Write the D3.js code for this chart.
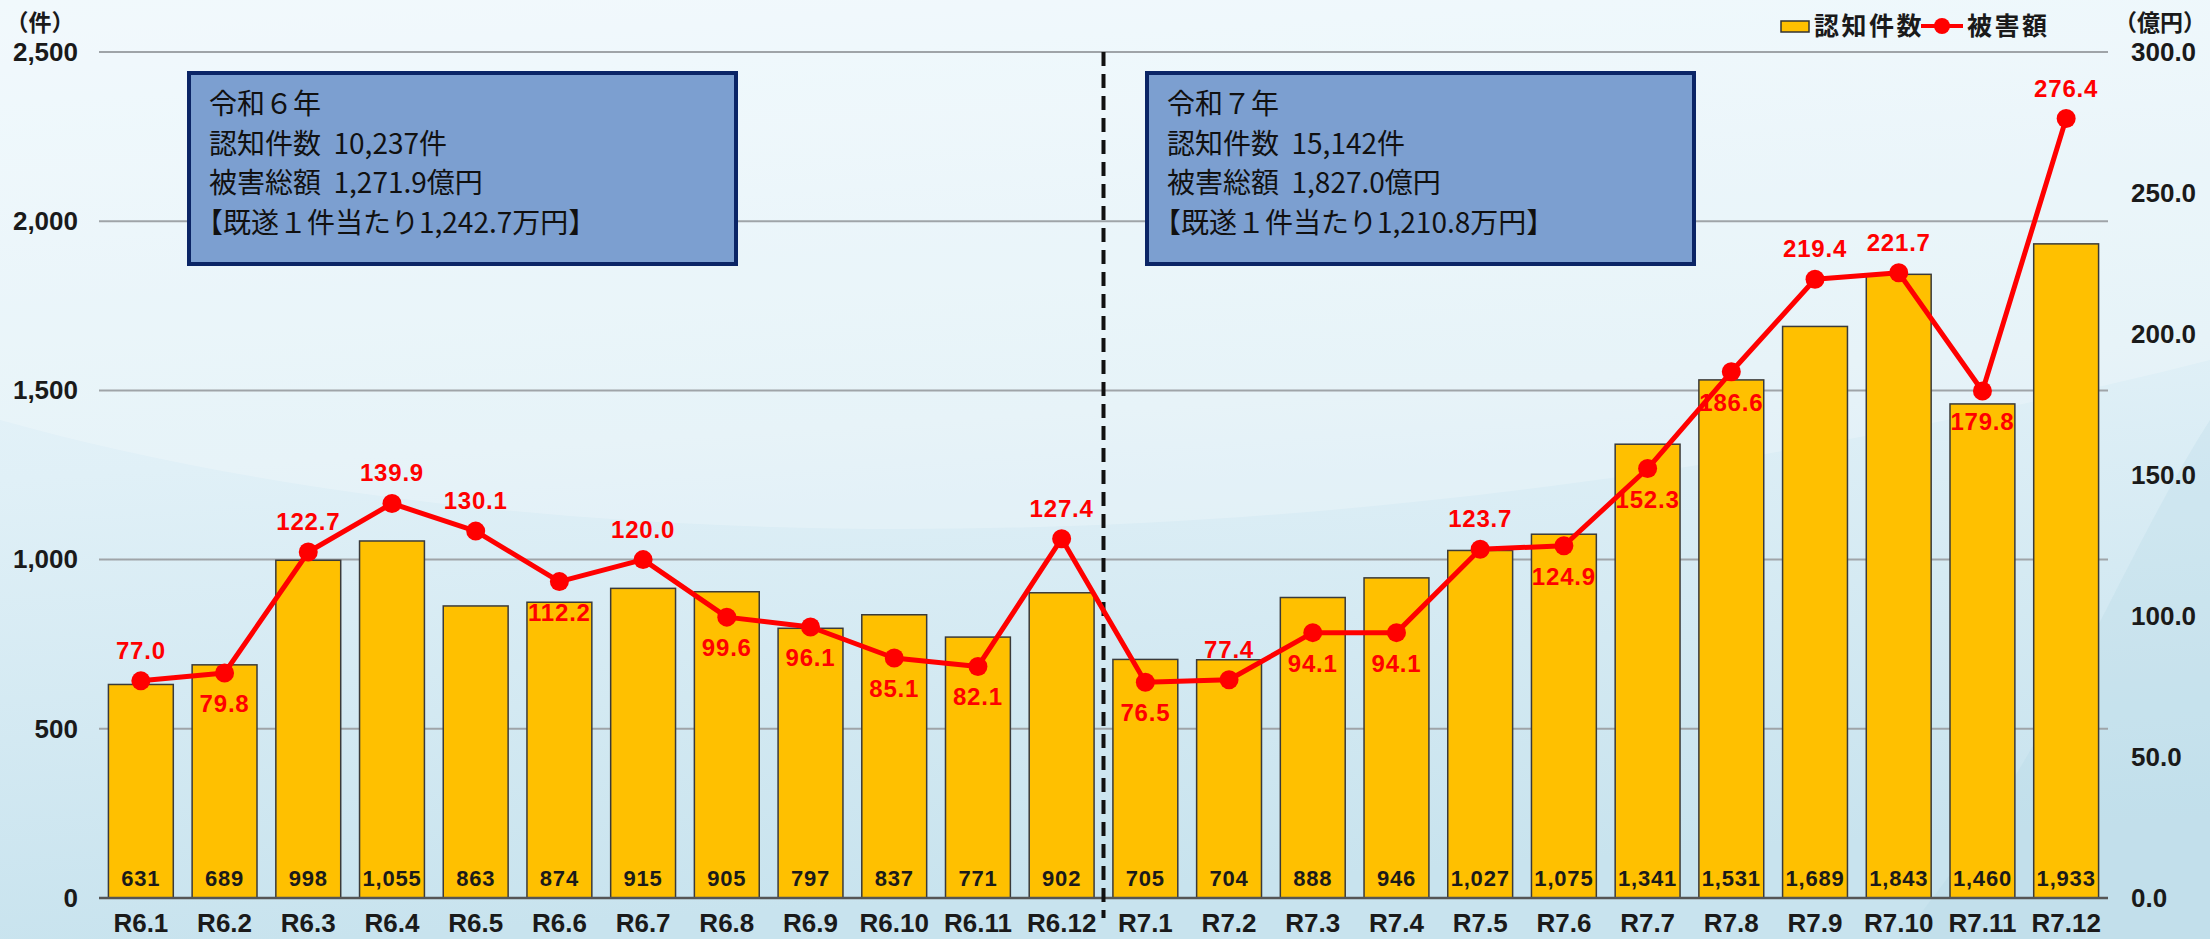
<!DOCTYPE html>
<html>
<head>
<meta charset="utf-8">
<script src="https://cdn.jsdelivr.net/npm/d3@7"></script>
<style>
  body { margin: 0; }
  svg { display: block; }
</style>
</head>
<body>
<svg class="chart"></svg>
<script>
// -------------------- Data --------------------
var categories = ["R6.1", "R6.2", "R6.3", "R6.4", "R6.5", "R6.6", "R6.7", "R6.8", "R6.9", "R6.10", "R6.11", "R6.12",
                  "R7.1", "R7.2", "R7.3", "R7.4", "R7.5", "R7.6", "R7.7", "R7.8", "R7.9", "R7.10", "R7.11", "R7.12"];
// 認知件数 (件)
var counts = [631, 689, 998, 1055, 863, 874, 915, 905, 797, 837, 771, 902,
              705, 704, 888, 946, 1027, 1075, 1341, 1531, 1689, 1843, 1460, 1933];
// 被害額 (億円)
var damages = [77.0, 79.8, 122.7, 139.9, 130.1, 112.2, 120.0, 99.6, 96.1, 85.1, 82.1, 127.4,
               76.5, 77.4, 94.1, 94.1, 123.7, 124.9, 152.3, 186.6, 219.4, 221.7, 179.8, 276.4];
var countTicks = [0, 500, 1000, 1500, 2000, 2500];
var damageTicks = [0, 50, 100, 150, 200, 250, 300];

var box2024 = ["令和６年", "認知件数\u00a0\u00a010,237件", "被害総額\u00a0\u00a01,271.9億円", "【既遂１件当たり1,242.7万円】"];
var box2025 = ["令和７年", "認知件数\u00a0\u00a015,142件", "被害総額\u00a0\u00a01,827.0億円", "【既遂１件当たり1,210.8万円】"];

// -------------------- Settings --------------------
var W = 2210, H = 939;
var margin = {top: 52, right: 102, bottom: 41, left: 99}
  , width = W - margin.left - margin.right
  , height = H - margin.top - margin.bottom;

var numFont = "'Liberation Sans', Arial, sans-serif";
var jpFont = "'Noto Sans CJK JP', sans-serif";

var svg = d3.select(".chart").attr("width", W).attr("height", H);

// -------------------- Background --------------------
var defs = svg.append("defs");
var bg = defs.append("linearGradient").attr("id", "bg")
  .attr("x1", 0).attr("y1", 0).attr("x2", 0.15).attr("y2", 1);
bg.append("stop").attr("offset", "0%").attr("stop-color", "#eef8fc");
bg.append("stop").attr("offset", "50%").attr("stop-color", "#e0f0f7");
bg.append("stop").attr("offset", "100%").attr("stop-color", "#c8e3ee");

svg.append("rect").attr("width", W).attr("height", H).attr("fill", "url(#bg)");
// soft light arc across the upper half
svg.append("path")
  .attr("d", "M0,420 C500,560 1300,590 2210,360 L2210,0 L0,0 Z")
  .attr("fill", "#ffffff").attr("opacity", 0.22);
svg.append("path")
  .attr("d", "M1900,939 C2050,760 2120,560 2210,420 L2210,939 Z")
  .attr("fill", "#a9d1e2").attr("opacity", 0.2);

var chart = svg.append("g")
  .attr("transform", "translate(" + margin.left + "," + margin.top + ")");

// -------------------- Scales --------------------
var x = d3.scaleBand()
  .domain(categories)
  .range([0, width])
  .paddingInner(0.225)
  .paddingOuter(0.1125);

var y = d3.scaleLinear().domain([0, 2500]).range([height, 0]);
var y2 = d3.scaleLinear().domain([0, 300]).range([height, 0]);

// -------------------- Grid + axes --------------------
chart.append("g")
  .selectAll("line")
  .data(countTicks.slice(1))
  .enter().append("line")
    .attr("x1", 0).attr("x2", width)
    .attr("y1", function(d) { return y(d); })
    .attr("y2", function(d) { return y(d); })
    .attr("stroke", "#9fa4a8").attr("stroke-width", 2);

var yAxis = chart.append("g")
  .call(d3.axisLeft(y).tickValues(countTicks).tickSize(0).tickPadding(21).tickFormat(d3.format(",")));
yAxis.select(".domain").remove();
yAxis.selectAll("text")
  .attr("font-family", numFont).attr("font-weight", "bold")
  .attr("font-size", 26).attr("fill", "#1a1a1a");

var y2Axis = chart.append("g")
  .attr("transform", "translate(" + width + ",0)")
  .call(d3.axisRight(y2).tickValues(damageTicks).tickSize(0).tickPadding(23).tickFormat(d3.format(".1f")));
y2Axis.select(".domain").remove();
y2Axis.selectAll("text")
  .attr("font-family", numFont).attr("font-weight", "bold")
  .attr("font-size", 26).attr("fill", "#1a1a1a");

// -------------------- Bars --------------------
chart.selectAll("rect.bar")
  .data(counts)
  .enter().append("rect")
    .attr("class", "bar")
    .attr("x", function(d, i) { return x(categories[i]); })
    .attr("y", function(d) { return y(d); })
    .attr("width", x.bandwidth())
    .attr("height", function(d) { return height - y(d); })
    .attr("fill", "#ffc000")
    .attr("stroke", "#3a3a3a")
    .attr("stroke-width", 1.5);

chart.selectAll("text.barval")
  .data(counts)
  .enter().append("text")
    .attr("class", "barval")
    .attr("x", function(d, i) { return x(categories[i]) + x.bandwidth() / 2; })
    .attr("y", height - 12)
    .attr("text-anchor", "middle")
    .attr("font-family", numFont).attr("font-weight", "bold")
    .attr("font-size", 22).attr("letter-spacing", 0.8)
    .attr("fill", "#1a1a1a")
    .text(d3.format(","));

// zero line
chart.append("line")
  .attr("x1", 0).attr("x2", width)
  .attr("y1", height).attr("y2", height)
  .attr("stroke", "#555").attr("stroke-width", 2.5);

// x labels
var xAxis = chart.append("g")
  .attr("transform", "translate(0," + height + ")")
  .call(d3.axisBottom(x).tickSize(0).tickPadding(16));
xAxis.select(".domain").remove();
xAxis.selectAll("text")
  .attr("font-family", numFont).attr("font-weight", "bold")
  .attr("font-size", 26).attr("fill", "#1a1a1a");

// -------------------- Year divider --------------------
var divX = x(categories[12]) - x.step() * x.paddingInner() / 2;
chart.append("line")
  .attr("x1", divX).attr("x2", divX)
  .attr("y1", 0).attr("y2", height + 20)
  .attr("stroke", "#111").attr("stroke-width", 4)
  .attr("stroke-dasharray", "14,8");

// -------------------- Summary boxes --------------------
function drawBox(lines, left) {
  var g = chart.append("g").attr("transform", "translate(" + left + ",21)");
  g.append("rect")
    .attr("width", 547).attr("height", 191)
    .attr("fill", "#7c9fd0")
    .attr("stroke", "#0b2566").attr("stroke-width", 4);
  g.selectAll("text")
    .data(lines)
    .enter().append("text")
      .attr("x", function(d, i) { return i === 3 ? 6 : 20; })
      .attr("y", function(d, i) { return 41 + i * 39.5; })
      .attr("font-family", jpFont).attr("font-size", 28)
      .attr("fill", "#111")
      .text(function(d) { return d; });
}
drawBox(box2024, 90);
drawBox(box2025, 1048);

// -------------------- Damage line --------------------
var line = d3.line()
  .x(function(d, i) { return x(categories[i]) + x.bandwidth() / 2; })
  .y(function(d) { return y2(d); });

chart.append("path")
  .datum(damages)
  .attr("d", line)
  .attr("fill", "none")
  .attr("stroke", "#ff0000")
  .attr("stroke-width", 5)
  .attr("stroke-linejoin", "round");

chart.selectAll("circle.pt")
  .data(damages)
  .enter().append("circle")
    .attr("class", "pt")
    .attr("cx", function(d, i) { return x(categories[i]) + x.bandwidth() / 2; })
    .attr("cy", function(d) { return y2(d); })
    .attr("r", 9.5)
    .attr("fill", "#ff0000");

// which side of the point each value label sits on
var labelAbove = [1, 0, 1, 1, 1, 0, 1, 0, 0, 0, 0, 1,
                  0, 1, 0, 0, 1, 0, 0, 0, 1, 1, 0, 1];

chart.selectAll("text.dmg")
  .data(damages)
  .enter().append("text")
    .attr("class", "dmg")
    .attr("x", function(d, i) { return x(categories[i]) + x.bandwidth() / 2; })
    .attr("y", function(d, i) { return y2(d) + (labelAbove[i] ? -22 : 39); })
    .attr("text-anchor", "middle")
    .attr("font-family", numFont).attr("font-weight", "bold")
    .attr("font-size", 24).attr("letter-spacing", 0.8)
    .attr("fill", "#ff0000")
    .text(d3.format(".1f"));

// -------------------- Axis titles + legend --------------------
svg.append("text")
  .attr("x", 40).attr("y", 31)
  .attr("text-anchor", "middle")
  .attr("font-family", jpFont).attr("font-weight", "bold")
  .attr("font-size", 23).attr("fill", "#1a1a1a")
  .text("（件）");

svg.append("text")
  .attr("x", 2160).attr("y", 31)
  .attr("text-anchor", "middle")
  .attr("font-family", jpFont).attr("font-weight", "bold")
  .attr("font-size", 23).attr("fill", "#1a1a1a")
  .text("（億円）");

var legend = svg.append("g");
legend.append("rect")
  .attr("x", 1781).attr("y", 21).attr("width", 28).attr("height", 11)
  .attr("fill", "#ffc000").attr("stroke", "#333").attr("stroke-width", 1.5);
legend.append("text")
  .attr("x", 1814).attr("y", 35)
  .attr("font-family", jpFont).attr("font-weight", "bold")
  .attr("font-size", 25).attr("letter-spacing", 2.5).attr("fill", "#1a1a1a")
  .text("認知件数");
legend.append("line")
  .attr("x1", 1921).attr("x2", 1963).attr("y1", 26).attr("y2", 26)
  .attr("stroke", "#ff0000").attr("stroke-width", 4);
legend.append("circle")
  .attr("cx", 1942).attr("cy", 26).attr("r", 8)
  .attr("fill", "#ff0000");
legend.append("text")
  .attr("x", 1967).attr("y", 35)
  .attr("font-family", jpFont).attr("font-weight", "bold")
  .attr("font-size", 25).attr("letter-spacing", 2.5).attr("fill", "#1a1a1a")
  .text("被害額");
</script>
</body>
</html>
